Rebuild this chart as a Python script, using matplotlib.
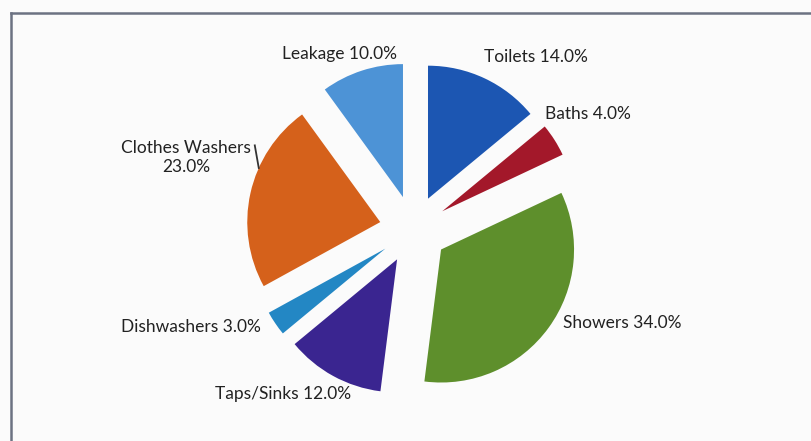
import numpy as np
import matplotlib.pyplot as plt
from matplotlib.lines import Line2D

plt.rcParams['font.family'] = ['Lato', 'DejaVu Sans']

# household water use, share of total (%)
categories = ['Toilets', 'Baths', 'Showers', 'Taps/Sinks', 'Dishwashers', 'Clothes Washers', 'Leakage']
shares = [14.0, 4.0, 34.0, 12.0, 3.0, 23.0, 10.0]
colors = ['#1c56b2', '#a3182a', '#5e8f2c', '#3a2590', '#2387c4', '#d5611b', '#4d93d6']
labels = ['Toilets 14.0%', 'Baths 4.0%', 'Showers 34.0%', 'Taps/Sinks 12.0%',
          'Dishwashers 3.0%', 'Clothes Washers\n23.0%', 'Leakage 10.0%']

# where each label sits, relative to the pie centre (pie radius = 1)
label_xy = [(0.92, 1.30), (1.31, 0.87), (1.57, -0.70), (-0.98, -1.24),
            (-1.67, -0.73), (-1.71, 0.54), (-0.56, 1.32)]

W, H = 811, 441
R_PX = 133.0
CX, CY = 413.5, 229.5

fig = plt.figure(figsize=(W / 100, H / 100), dpi=100)
fig.patch.set_facecolor('#fbfbfb')
ax = fig.add_axes([0, 0, 1, 1])
ax.set_facecolor('#fbfbfb')

wedges, _ = ax.pie(shares, colors=colors, startangle=90, counterclock=False,
                   explode=[0.256] * len(shares), radius=1.0,
                   wedgeprops=dict(linewidth=0))

for (lx, ly), txt in zip(label_xy, labels):
    ax.text(lx, ly, txt, ha='center', va='center', fontsize=12.5,
            color='#222222', linespacing=1.25)

# leader line for the clothes washers label
cw = wedges[categories.index('Clothes Washers')]
ang = np.deg2rad(156)
ex, ey = cw.center[0] + np.cos(ang) * cw.r, cw.center[1] + np.sin(ang) * cw.r
ax.plot([ex - 0.03, ex], [ey + 0.17, ey], color='#333333', lw=1.3)

ax.set_xlim(-CX / R_PX, (W - CX) / R_PX)
ax.set_ylim(-(H - CY) / R_PX, CY / R_PX)
ax.set_aspect('equal')
ax.axis('off')

# chart frame (top and left edges visible)
fig.add_artist(Line2D([10.5 / W, 1.0], [1 - 13 / H, 1 - 13 / H], color='#6c7282', lw=1.8))
fig.add_artist(Line2D([10.5 / W, 10.5 / W], [0.0, 1 - 13 / H], color='#6c7282', lw=1.8))

fig.savefig('out.png', dpi=100, facecolor=fig.get_facecolor())
